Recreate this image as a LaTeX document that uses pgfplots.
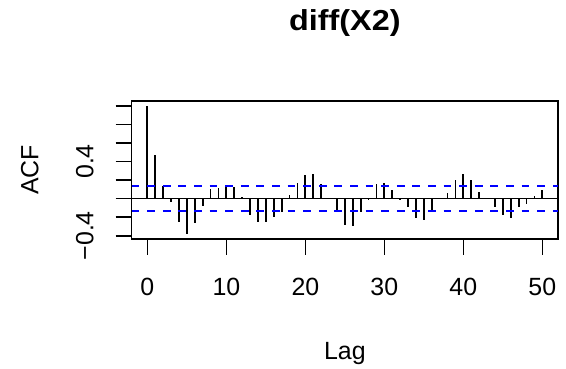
\documentclass[border=0pt]{standalone}
\usepackage{pgfplots}
\pgfplotsset{compat=1.18}
\usepackage{fontspec}
\setmainfont{Liberation Sans}
\newfontfamily\titlefont{Liberation Sans Bold}[FakeStretch=1.12]
\begin{document}
\begin{tikzpicture}[font=\fontsize{25}{30}\selectfont]
\useasboundingbox (0,0) rectangle (566bp,369bp);
\begin{axis}[
  at={(131.6bp,130bp)}, anchor=south west,
  scale only axis, width=426.5bp, height=138.3bp,
  xmin=-2, xmax=52, ymin=-0.435, ymax=1.055,
  axis line style={line width=1.6bp},
  tick style={line width=1.6bp, black},
  tick align=outside, major tick length=16bp,
  xtick={0,10,20,30,40,50},
  xticklabels={0,10,20,30,40,50},
  ytick={-0.4,-0.2,0,0.2,0.4,0.6,0.8,1.0},
  yticklabels={},
  xtick pos=bottom, ytick pos=left,
  xticklabel style={anchor=base, yshift=-40.5bp},
  title={\titlefont diff(X2)},
  title style={at={(axis description cs:0.5,1.4628)}, anchor=base, font=\fontsize{29}{34}\selectfont},
  xlabel={Lag},
  xlabel style={at={(axis description cs:0.5,-0.8698)}, anchor=base},
  ylabel={ACF},
  ylabel style={at={(axis description cs:-0.2188,0.5)}, rotate=0, anchor=base},
  clip=false,
]
\addplot[ycomb, black, line width=1.8bp, mark=none] coordinates {
(0,1.0) (1,0.473) (2,0.135) (3,-0.040) (4,-0.256) (5,-0.380) (6,-0.267) (7,-0.078)
(8,0.100) (9,0.117) (10,0.149) (11,0.128) (12,0.022) (13,-0.174) (14,-0.256) (15,-0.256)
(16,-0.203) (17,-0.149) (18,0.036) (19,0.167) (20,0.256) (21,0.267) (22,0.160) (23,0.010)
(24,-0.149) (25,-0.284) (26,-0.292) (27,-0.149) (28,-0.010) (29,0.160) (30,0.167) (31,0.092)
(32,-0.005) (33,-0.085) (34,-0.206) (35,-0.228) (36,-0.132) (37,0.005) (38,0.064) (39,0.203)
(40,0.267) (41,0.206) (42,0.075) (43,0.010) (44,-0.085) (45,-0.178) (46,-0.210) (47,-0.085)
(48,-0.060) (49,0.025) (50,0.092)
};
\addplot[draw=black, line width=1.6bp] coordinates {(-2,0) (52,0)};
\addplot[draw=blue, line width=2bp, dash pattern=on 7.8bp off 7.8bp] coordinates {(-2,0.1386) (52,0.1386)};
\addplot[draw=blue, line width=2bp, dash pattern=on 7.8bp off 7.8bp] coordinates {(-2,-0.1386) (52,-0.1386)};
\node[rotate=90, anchor=base] at ([xshift=-38.3bp]axis cs:-2,0.4) {0.4};
\node[rotate=90, anchor=base] at ([xshift=-38.3bp]axis cs:-2,-0.4) {−0.4};
\end{axis}
\end{tikzpicture}
\end{document}
